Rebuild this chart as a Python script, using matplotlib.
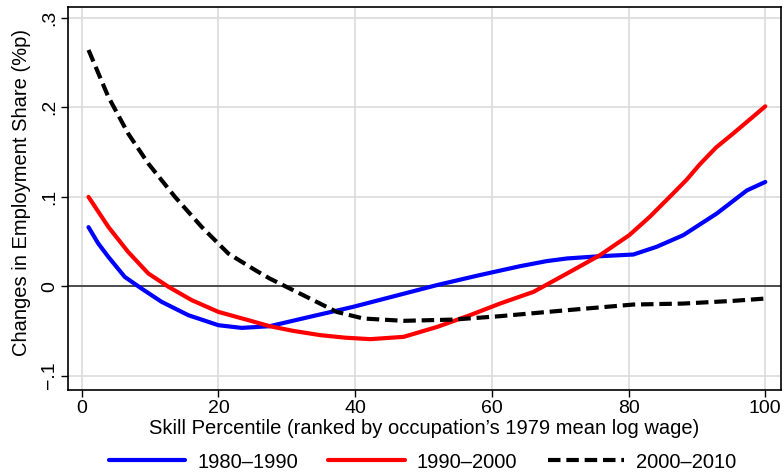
import matplotlib
matplotlib.use("Agg")
import matplotlib.pyplot as plt

plt.rcParams['font.family'] = ['Liberation Sans', 'DejaVu Sans']

x_blue = [1, 2.4, 3.9, 6.3, 8.75, 11.7, 15.6, 20.0, 23.4, 27.5, 33.5, 39.7, 45.8, 51.9, 58.0, 64.1, 68.0, 71.0, 75.8, 80.7, 84.1, 88.0, 92.9, 97.3, 100]
y_blue = [0.066, 0.048, 0.0328, 0.0104, -0.0026, -0.0175, -0.0324, -0.0436, -0.0466, -0.0447, -0.034, -0.0231, -0.011, 0.0011, 0.012, 0.0223, 0.028, 0.031, 0.0335, 0.0354, 0.044, 0.057, 0.0812, 0.107, 0.1165]

x_red = [1, 3.9, 6.8, 9.75, 12.7, 16.1, 20.0, 24.4, 27.5, 31.0, 34.9, 38.5, 42.2, 47.1, 52.0, 56.8, 61.2, 66.1, 71.0, 75.8, 80.1, 83.1, 86.5, 88.5, 90.4, 92.8, 95.3, 100]
y_red = [0.0998, 0.0663, 0.0383, 0.0142, -0.0007, -0.0156, -0.0287, -0.038, -0.0447, -0.050, -0.0547, -0.0575, -0.0592, -0.0566, -0.0455, -0.0324, -0.0194, -0.0063, 0.0142, 0.0346, 0.057, 0.0775, 0.1035, 0.119, 0.136, 0.155, 0.1706, 0.201]

x_black = [1, 3.9, 6.8, 9.75, 13.65, 17.55, 21.45, 25.4, 27.5, 32.4, 37.3, 41.2, 47.1, 54.4, 61.2, 71.0, 80.7, 88.0, 95.3, 100]
y_black = [0.264, 0.2116, 0.1706, 0.137, 0.0998, 0.0663, 0.0365, 0.0179, 0.0086, -0.010, -0.0287, -0.0361, -0.0387, -0.0373, -0.0335, -0.0268, -0.0205, -0.0194, -0.0164, -0.0138]

labels = ['1980\u20131990', '1990\u20132000', '2000\u20132010']
xticks = [0, 20, 40, 60, 80, 100]
yticks = [-0.1, 0, 0.1, 0.2, 0.3]
yticklabels = ['\u2212.1', '0', '.1', '.2', '.3']

FS = 14
W, H = 784, 475
L, R, T, B = 68, 781, 7, 390

fig = plt.figure(figsize=(W/100, H/100), dpi=100)
ax = fig.add_axes([L/W, 1 - B/H, (R-L)/W, (B-T)/H])

ax.grid(True, color='#dcdcdc', linewidth=1.2)
ax.set_axisbelow(True)
ax.axhline(0, color='#333333', linewidth=1.2, zorder=1.5)

ax.plot(x_blue, y_blue, color='#0000ff', lw=3, solid_capstyle='round', solid_joinstyle='round', label=labels[0])
ax.plot(x_red, y_red, color='#ff0000', lw=3, solid_capstyle='round', solid_joinstyle='round', label=labels[1])
ax.plot(x_black, y_black, color='black', lw=3, dashes=(3.0, 1.4), dash_joinstyle='round', label=labels[2])

ax.set_xlim(-2, 102.3)
ax.set_ylim(-0.116, 0.312)
ax.set_xticks(xticks)
ax.set_xticklabels([str(v) for v in xticks])
ax.set_yticks(yticks)
ax.set_yticklabels(yticklabels, rotation=90, va='center')
ax.tick_params(direction='out', length=5, width=1, labelsize=FS, colors='black', pad=2)
for s in ax.spines.values():
    s.set_linewidth(1.2)

ax.set_xlabel("Skill Percentile (ranked by occupation\u2019s 1979 mean log wage)", fontsize=FS + 0.5, va='center')
ax.xaxis.set_label_coords(0.5, -(428 - B) / (B - T))
ax.set_ylabel("Changes in Employment Share (%p)", fontsize=FS + 0.5, va='center')
ax.yaxis.set_label_coords((22 - L) / (R - L), (B - 193) / (B - T))

fig.legend(loc='center', bbox_to_anchor=(0.539, 1 - 462/H), ncol=3, frameon=False,
           fontsize=FS + 0.5, handlelength=3.8, columnspacing=1.5, handletextpad=0.6)

fig.savefig('out.png', dpi=100)
